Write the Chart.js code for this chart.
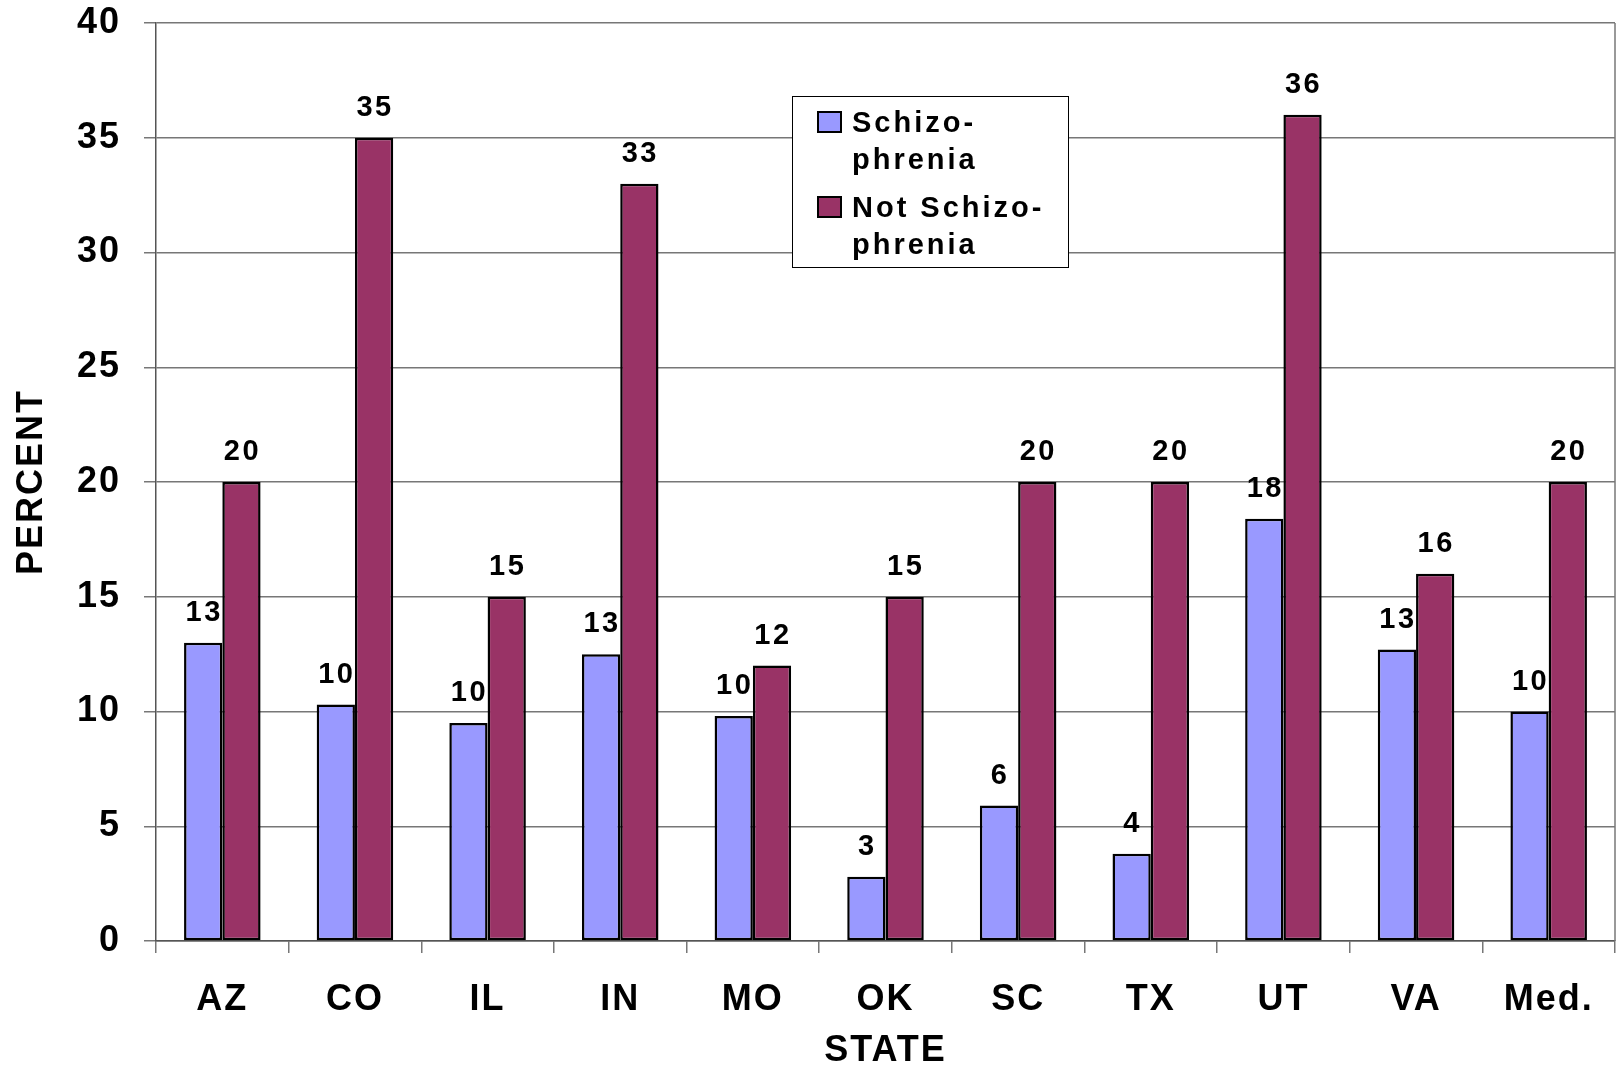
<!DOCTYPE html>
<html>
<head>
<meta charset="utf-8">
<title>Percent by State</title>
<script src="https://cdn.jsdelivr.net/npm/chart.js@4.4.1/dist/chart.umd.min.js"></script>
<style>
    html, body { margin: 0; padding: 0; background: #fff; }
    #wrap { width: 1621px; height: 1067px; }
</style>
</head>
<body>
<div id="wrap"><canvas id="barChart" width="1621" height="1067"></canvas></div>
<script>
/* ============================================
   DATA
============================================ */
const states = ['AZ', 'CO', 'IL', 'IN', 'MO', 'OK', 'SC', 'TX', 'UT', 'VA', 'Med.'];
const schizo = [13.0, 10.3, 9.5, 12.5, 9.8, 2.8, 5.9, 3.8, 18.4, 12.7, 10.0];
const notSchizo = [20, 35, 15, 33, 12, 15, 20, 20, 36, 16, 20];
const seriesNames = ['Schizophrenia', 'Not Schizophrenia'];
const legendLines = [['Schizo-', 'phrenia'], ['Not Schizo-', 'phrenia']];

const FONT = "'Liberation Sans', Arial, sans-serif";
const BLUE = '#9999ff';
const PLUM = '#993366';

/* ============================================
   PLUGINS
============================================ */
// wider letter spacing like the old office chart
const spacing = {
    id: 'spacing',
    beforeDraw(chart) {
        chart.ctx.letterSpacing = '2px';
    }
};

// right edge of the plot frame
const frame = {
    id: 'frame',
    beforeDatasetsDraw(chart) {
        const { ctx, chartArea: a } = chart;
        ctx.save();
        ctx.strokeStyle = '#777';
        ctx.lineWidth = 1.5;
        ctx.beginPath();
        ctx.moveTo(a.right, a.top);
        ctx.lineTo(a.right, a.bottom);
        ctx.stroke();
        ctx.restore();
    }
};

// value labels above each bar
const valueLabels = {
    id: 'valueLabels',
    afterDatasetsDraw(chart) {
        const ctx = chart.ctx;
        ctx.save();
        ctx.font = 'bold 29px ' + FONT;
        ctx.letterSpacing = '2.5px';
        ctx.fillStyle = '#000';
        ctx.textAlign = 'center';
        ctx.textBaseline = 'alphabetic';
        chart.data.datasets.forEach((ds, i) => {
            chart.getDatasetMeta(i).data.forEach((bar, j) => {
                ctx.fillText(String(Math.round(ds.data[j])), bar.x + 1, bar.y - 22);
            });
        });
        ctx.restore();
    }
};

// boxed legend with hyphen-broken names
const boxLegend = {
    id: 'boxLegend',
    afterDraw(chart) {
        const ctx = chart.ctx;
        const bx = 792, by = 96, bw = 276, bh = 171;
        ctx.save();
        ctx.fillStyle = '#fff';
        ctx.fillRect(bx, by, bw, bh);
        ctx.strokeStyle = '#000';
        ctx.lineWidth = 1;
        ctx.strokeRect(bx + 0.5, by + 0.5, bw, bh);

        ctx.font = 'bold 29px ' + FONT;
        ctx.letterSpacing = '3px';
        ctx.textAlign = 'left';
        ctx.textBaseline = 'alphabetic';
        chart.data.datasets.forEach((ds, i) => {
            const top = 112 + i * 85;
            ctx.fillStyle = ds.backgroundColor;
            ctx.fillRect(818, top, 23, 20);
            ctx.strokeStyle = '#000';
            ctx.lineWidth = 2;
            ctx.strokeRect(818, top, 23, 20);
            ctx.fillStyle = '#000';
            legendLines[i].forEach((line, k) => {
                ctx.fillText(line, 852, top + 20 + k * 37);
            });
        });
        ctx.restore();
    }
};

/* ============================================
   BAR CHART
============================================ */
function initBarChart() {
    const canvas = document.getElementById('barChart');
    if (!canvas) return;

    new Chart(canvas.getContext('2d'), {
        type: 'bar',
        data: {
            labels: states,
            datasets: [
                {
                    label: seriesNames[0],
                    data: schizo,
                    backgroundColor: BLUE,
                    borderColor: '#000',
                    borderWidth: 2.5,
                    borderSkipped: false
                },
                {
                    label: seriesNames[1],
                    data: notSchizo,
                    backgroundColor: PLUM,
                    borderColor: '#000',
                    borderWidth: 2.5,
                    borderSkipped: false
                }
            ]
        },
        plugins: [spacing, frame, valueLabels, boxLegend],
        options: {
            responsive: false,
            animation: false,
            devicePixelRatio: 1,
            categoryPercentage: 0.577,
            barPercentage: 1,
            layout: { padding: { top: 23, right: 6, bottom: 0, left: 0 } },
            plugins: {
                legend: { display: false },
                tooltip: { enabled: false }
            },
            scales: {
                x: {
                    afterFit: s => { s.height = 126; },
                    grid: {
                        offset: true,
                        drawOnChartArea: false,
                        drawTicks: true,
                        tickLength: 12,
                        color: '#777',
                        lineWidth: 1.5
                    },
                    border: { color: '#555', width: 1.5 },
                    ticks: {
                        color: '#000',
                        padding: 25,
                        maxRotation: 0,
                        autoSkip: false,
                        font: { family: FONT, size: 36, weight: 'bold' }
                    },
                    title: {
                        display: true,
                        text: 'STATE',
                        color: '#000',
                        padding: { top: 0, bottom: 2 },
                        font: { family: FONT, size: 36, weight: 'bold', lineHeight: 0.8 }
                    }
                },
                y: {
                    min: 0,
                    max: 40,
                    afterFit: s => {
                        s.width = 156;
                        s.paddingTop = 0;
                        s.paddingBottom = 0;
                    },
                    grid: {
                        color: '#777',
                        lineWidth: 1.5,
                        drawTicks: true,
                        tickLength: 12
                    },
                    border: { color: '#555', width: 1.5 },
                    ticks: {
                        stepSize: 5,
                        color: '#000',
                        padding: 23,
                        font: { family: FONT, size: 36, weight: 'bold' }
                    },
                    title: {
                        display: true,
                        text: 'PERCENT',
                        color: '#000',
                        padding: { top: 14, bottom: 0 },
                        font: { family: FONT, size: 36, weight: 'bold', lineHeight: 1 }
                    }
                }
            }
        }
    });
}

/* ============================================
   INIT
============================================ */
document.addEventListener('DOMContentLoaded', () => {
    initBarChart();
});
</script>
</body>
</html>
